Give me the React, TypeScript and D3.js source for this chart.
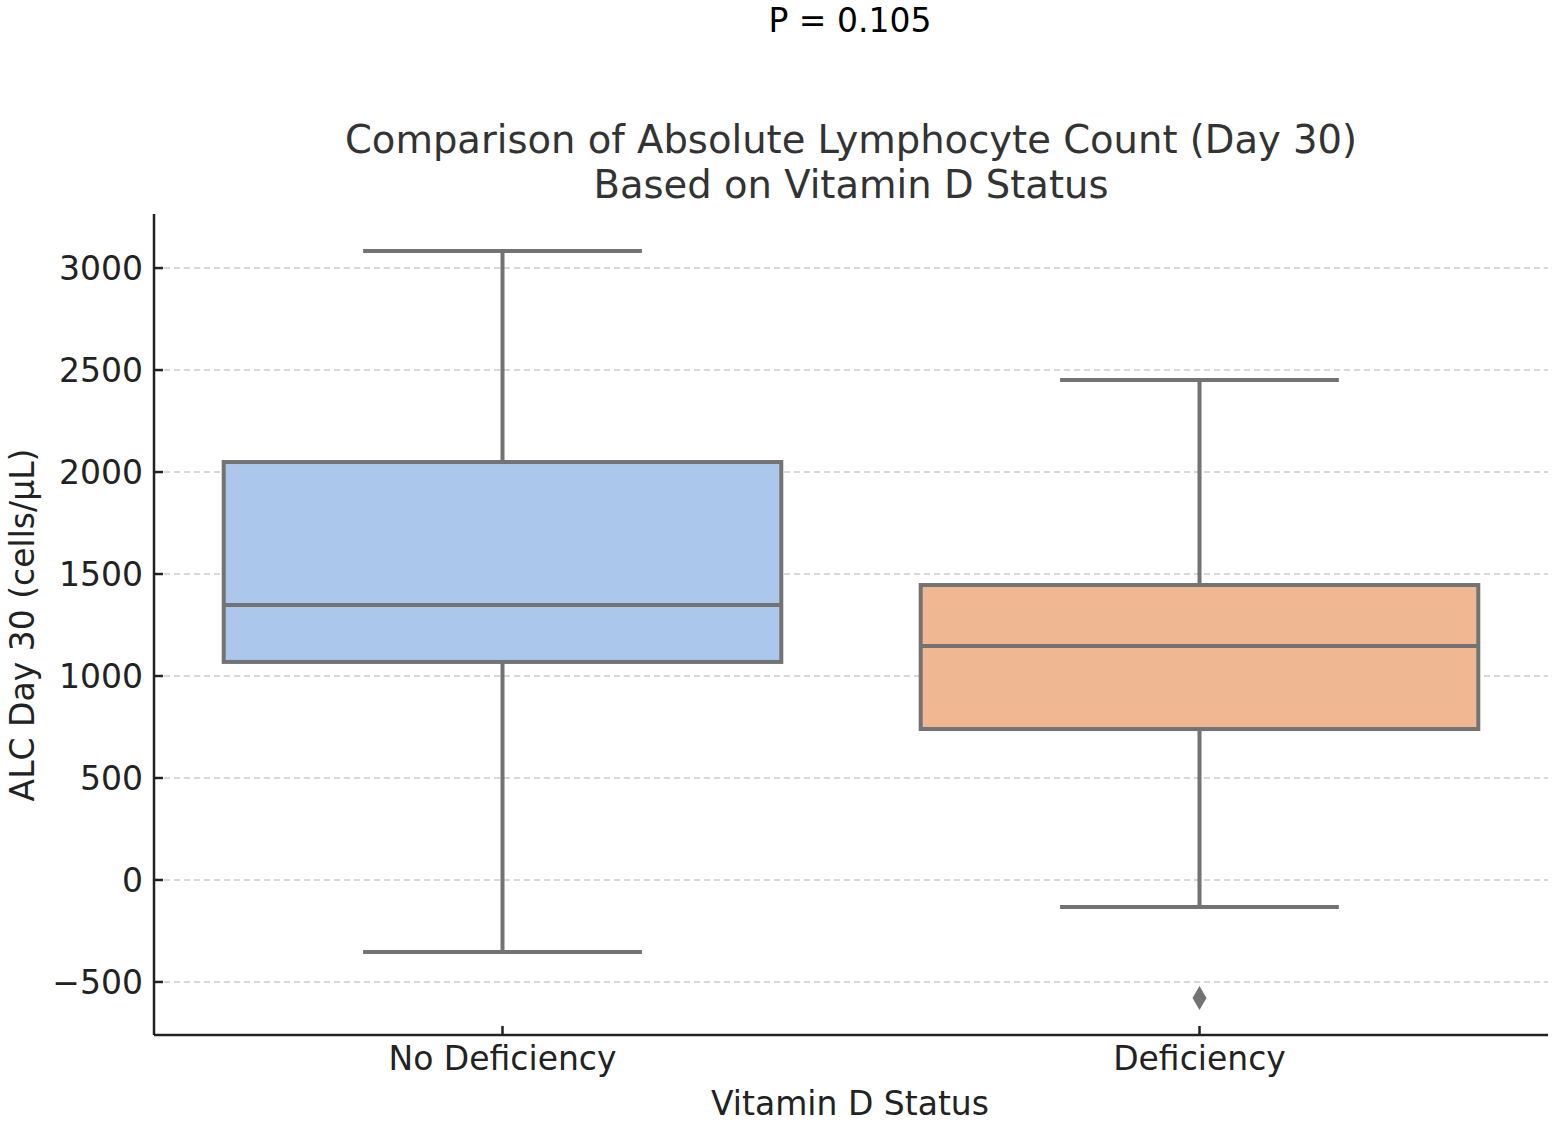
import React from "react";
import * as d3 from "d3";

const categories = ["No Deficiency", "Deficiency"];
const whiskerLow = [-353, -132];
const q1 = [1069, 740];
const median = [1348, 1147];
const q3 = [2049, 1446];
const whiskerHigh = [3083, 2451];
const outliers = [[], [-578]];
const fills = ["#abc8ec", "#f0b892"];
const yTicks = [-500, 0, 500, 1000, 1500, 2000, 2500, 3000];

const W = 1557, H = 1122;
const left = 154, right = 1548, top = 214, bottom = 1035;

export default function App() {
  const y = d3.scaleLinear().domain([-760, 3265]).range([bottom, top]);
  const x = d3.scaleBand().domain(categories).range([left, right]).paddingInner(0.2).paddingOuter(0.1);
  const bw = x.bandwidth();
  const font = "DejaVu Sans, sans-serif";
  const edge = "#737373";
  const fmt = (v: number) => (v < 0 ? "\u2212" + Math.abs(v) : String(v));
  return (
    <svg width={W} height={H} style={{ position: "absolute", left: 0, top: 0, background: "#fff" }} fontFamily={font}>
      <text x={850} y={32} fontSize={33} textAnchor="middle" fill="#000">P = 0.105</text>
      <text x={851} y={153} fontSize={38.5} textAnchor="middle" fill="#333">Comparison of Absolute Lymphocyte Count (Day 30)</text>
      <text x={851} y={198} fontSize={38.5} textAnchor="middle" fill="#333">Based on Vitamin D Status</text>
      {yTicks.map((t) => (
        <g key={t}>
          <line x1={left} x2={right} y1={y(t)} y2={y(t)} stroke="#cccccc" strokeWidth={1.5} strokeDasharray="6,4" />
          <line x1={left} x2={left + 9} y1={y(t)} y2={y(t)} stroke="#222" strokeWidth={2.5} />
          <text x={left - 11} y={y(t)} dy="0.36em" fontSize={33} textAnchor="end" fill="#222">{fmt(t)}</text>
        </g>
      ))}
      {categories.map((c, i) => {
        const cx = x(c)! + bw / 2;
        const capW = bw / 2;
        return (
          <g key={c}>
            <line x1={cx} x2={cx} y1={y(whiskerHigh[i])} y2={y(q3[i])} stroke={edge} strokeWidth={4} />
            <line x1={cx} x2={cx} y1={y(q1[i])} y2={y(whiskerLow[i])} stroke={edge} strokeWidth={4} />
            <line x1={cx - capW / 2} x2={cx + capW / 2} y1={y(whiskerHigh[i])} y2={y(whiskerHigh[i])} stroke={edge} strokeWidth={4} />
            <line x1={cx - capW / 2} x2={cx + capW / 2} y1={y(whiskerLow[i])} y2={y(whiskerLow[i])} stroke={edge} strokeWidth={4} />
            <rect x={x(c)!} y={y(q3[i])} width={bw} height={y(q1[i]) - y(q3[i])} fill={fills[i]} stroke={edge} strokeWidth={4} />
            <line x1={x(c)!} x2={x(c)! + bw} y1={y(median[i])} y2={y(median[i])} stroke={edge} strokeWidth={4} />
            {outliers[i].map((o, k) => (
              <path key={k} d={`M${cx},${y(o) - 12}L${cx + 7},${y(o)}L${cx},${y(o) + 12}L${cx - 7},${y(o)}Z`} fill={edge} />
            ))}
            <line x1={cx} x2={cx} y1={bottom} y2={bottom - 9} stroke="#222" strokeWidth={2.5} />
            <text x={cx} y={1070} fontSize={33} textAnchor="middle" fill="#222">{c}</text>
          </g>
        );
      })}
      <line x1={left} x2={left} y1={top} y2={bottom} stroke="#222" strokeWidth={2.5} />
      <line x1={left} x2={right} y1={bottom} y2={bottom} stroke="#222" strokeWidth={2.5} />
      <text x={850} y={1115} fontSize={33} textAnchor="middle" fill="#222">Vitamin D Status</text>
      <text transform={`translate(34,625) rotate(-90)`} fontSize={33} textAnchor="middle" fill="#222">ALC Day 30 (cells/μL)</text>
    </svg>
  );
}
